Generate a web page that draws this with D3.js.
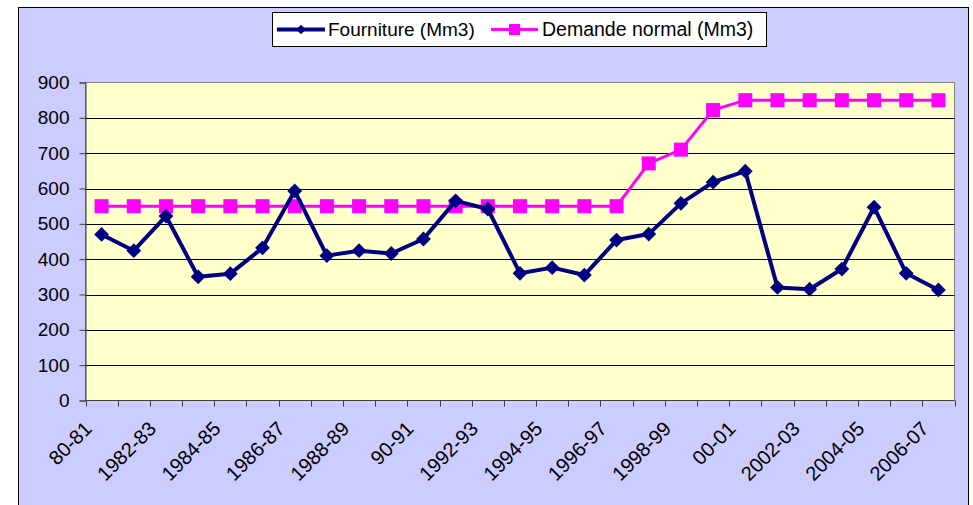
<!DOCTYPE html>
<html>
<head>
<meta charset="utf-8">
<script src="https://cdn.jsdelivr.net/npm/d3@7"></script>
<style>
  body { margin: 0; background: #fff; }
  svg { display: block; }
  svg text { font-family: "Liberation Sans", Arial, sans-serif; }
</style>
</head>
<body>
<div id="chart"></div>
<script>
// categories (campagnes)
const seasons = ["80-81", "1981-82", "1982-83", "1983-84", "1984-85", "1985-86", "1986-87",
  "1987-88", "1988-89", "1989-90", "90-91", "1991-92", "1992-93", "1993-94", "1994-95",
  "1995-96", "1996-97", "1997-98", "1998-99", "1999-00", "00-01", "2001-02", "2002-03",
  "2003-04", "2004-05", "2005-06", "2006-07"];

// series values (Mm3)
const fourniture = [470, 424, 522, 350, 359, 432, 593, 410, 424, 416, 457, 565, 542,
  360, 376, 355, 454, 471, 558, 618, 649, 320, 315, 372, 547, 360, 313];
const demande = [550, 550, 550, 550, 550, 550, 550, 550, 550, 550, 550, 550, 550,
  550, 550, 550, 550, 671, 710, 822, 850, 850, 850, 850, 850, 850, 850];

const yTicks = [0, 100, 200, 300, 400, 500, 600, 700, 800, 900];

const W = 973, H = 505;
const plot = {left: 85.5, right: 954.5, top: 82.5, bottom: 400.5};

const svg = d3.select("#chart").append("svg")
  .attr("width", W).attr("height", H);

// chart frame
svg.append("rect")
  .attr("x", 18.5).attr("y", 7.5)
  .attr("width", 950).attr("height", 520)
  .attr("fill", "#CCCCFF").attr("stroke", "#000").attr("stroke-width", 1);

const x = d3.scaleBand()
  .domain(seasons)
  .range([plot.left, plot.right]);

const y = d3.scaleLinear()
  .domain([0, 900])
  .range([plot.bottom, plot.top]);

// plot area
svg.append("rect")
  .attr("x", plot.left).attr("y", plot.top)
  .attr("width", plot.right - plot.left).attr("height", plot.bottom - plot.top)
  .attr("fill", "#FFFFCC").attr("stroke", "#808080").attr("stroke-width", 1);

// gridlines
svg.append("g")
  .selectAll("line")
  .data(yTicks.filter(d => d > 0 && d < 900))
  .join("line")
    .attr("x1", plot.left).attr("x2", plot.right)
    .attr("y1", d => Math.round(y(d)) + 0.5).attr("y2", d => Math.round(y(d)) + 0.5)
    .attr("stroke", "#000").attr("stroke-width", 1);

// y axis
const yAxis = svg.append("g")
  .attr("transform", `translate(${plot.left},0)`)
  .call(d3.axisLeft(y).tickValues(yTicks).tickSize(6).tickPadding(10));
yAxis.attr("font-family", null);
yAxis.select(".domain").attr("stroke", "#404040");
yAxis.selectAll(".tick line").attr("stroke", "#404040");
yAxis.selectAll("text")
  .attr("font-size", 19).attr("fill", "#000");

// x axis: ticks between categories
const boundaries = seasons.map(s => x(s)).concat([plot.right]);
const xAxis = svg.append("g");
xAxis.append("line")
  .attr("x1", plot.left).attr("x2", plot.right)
  .attr("y1", plot.bottom).attr("y2", plot.bottom)
  .attr("stroke", "#404040");
xAxis.selectAll("line.tk")
  .data(boundaries)
  .join("line")
    .attr("class", "tk")
    .attr("x1", d => Math.round(d) + 0.5).attr("x2", d => Math.round(d) + 0.5)
    .attr("y1", plot.bottom).attr("y2", plot.bottom + 6)
    .attr("stroke", "#404040");

// category labels every other season
xAxis.selectAll("text")
  .data(seasons.filter((d, i) => i % 2 === 0))
  .join("text")
    .attr("transform", d => `translate(${x(d) + x.bandwidth() / 2 - 8.5},430) rotate(-45)`)
    .attr("text-anchor", "end")
    .attr("font-size", 20)
    .attr("fill", "#000")
    .text(d => d);

const cx = d => x(d) + x.bandwidth() / 2;

// Demande normal
const demandeData = seasons.map((s, i) => ({s, v: demande[i]}));
svg.append("path")
  .datum(demandeData)
  .attr("fill", "none")
  .attr("stroke", "#FF00FF")
  .attr("stroke-width", 3)
  .attr("d", d3.line().x(d => cx(d.s)).y(d => y(d.v)));
svg.append("g")
  .selectAll("rect")
  .data(demandeData)
  .join("rect")
    .attr("x", d => cx(d.s) - 7).attr("y", d => y(d.v) - 7)
    .attr("width", 14).attr("height", 14)
    .attr("fill", "#FF00FF");

// Fourniture
const fournData = seasons.map((s, i) => ({s, v: fourniture[i]}));
svg.append("path")
  .datum(fournData)
  .attr("fill", "none")
  .attr("stroke", "#000080")
  .attr("stroke-width", 4)
  .attr("stroke-linejoin", "round")
  .attr("d", d3.line().x(d => cx(d.s)).y(d => y(d.v)));
const diamond = d3.symbol().type(d3.symbolDiamond2).size(140);
svg.append("g")
  .selectAll("path")
  .data(fournData)
  .join("path")
    .attr("transform", d => `translate(${cx(d.s)},${y(d.v)})`)
    .attr("d", diamond)
    .attr("fill", "#000080");

// legend
const leg = svg.append("g");
leg.append("rect")
  .attr("x", 272.5).attr("y", 12.5)
  .attr("width", 494).attr("height", 34)
  .attr("fill", "#fff").attr("stroke", "#000");

leg.append("line")
  .attr("x1", 277).attr("x2", 325).attr("y1", 29.5).attr("y2", 29.5)
  .attr("stroke", "#000080").attr("stroke-width", 4);
leg.append("path")
  .attr("transform", "translate(301,29.5)")
  .attr("d", d3.symbol().type(d3.symbolDiamond2).size(60))
  .attr("fill", "#000080");
leg.append("text")
  .attr("x", 328).attr("y", 36)
  .attr("font-size", 19)
  .text("Fourniture (Mm3)");

leg.append("line")
  .attr("x1", 491).attr("x2", 538).attr("y1", 29.5).attr("y2", 29.5)
  .attr("stroke", "#FF00FF").attr("stroke-width", 3);
leg.append("rect")
  .attr("x", 509).attr("y", 24).attr("width", 11).attr("height", 11)
  .attr("fill", "#FF00FF");
leg.append("text")
  .attr("x", 542).attr("y", 36)
  .attr("font-size", 19.5)
  .text("Demande normal (Mm3)");
</script>
</body>
</html>
